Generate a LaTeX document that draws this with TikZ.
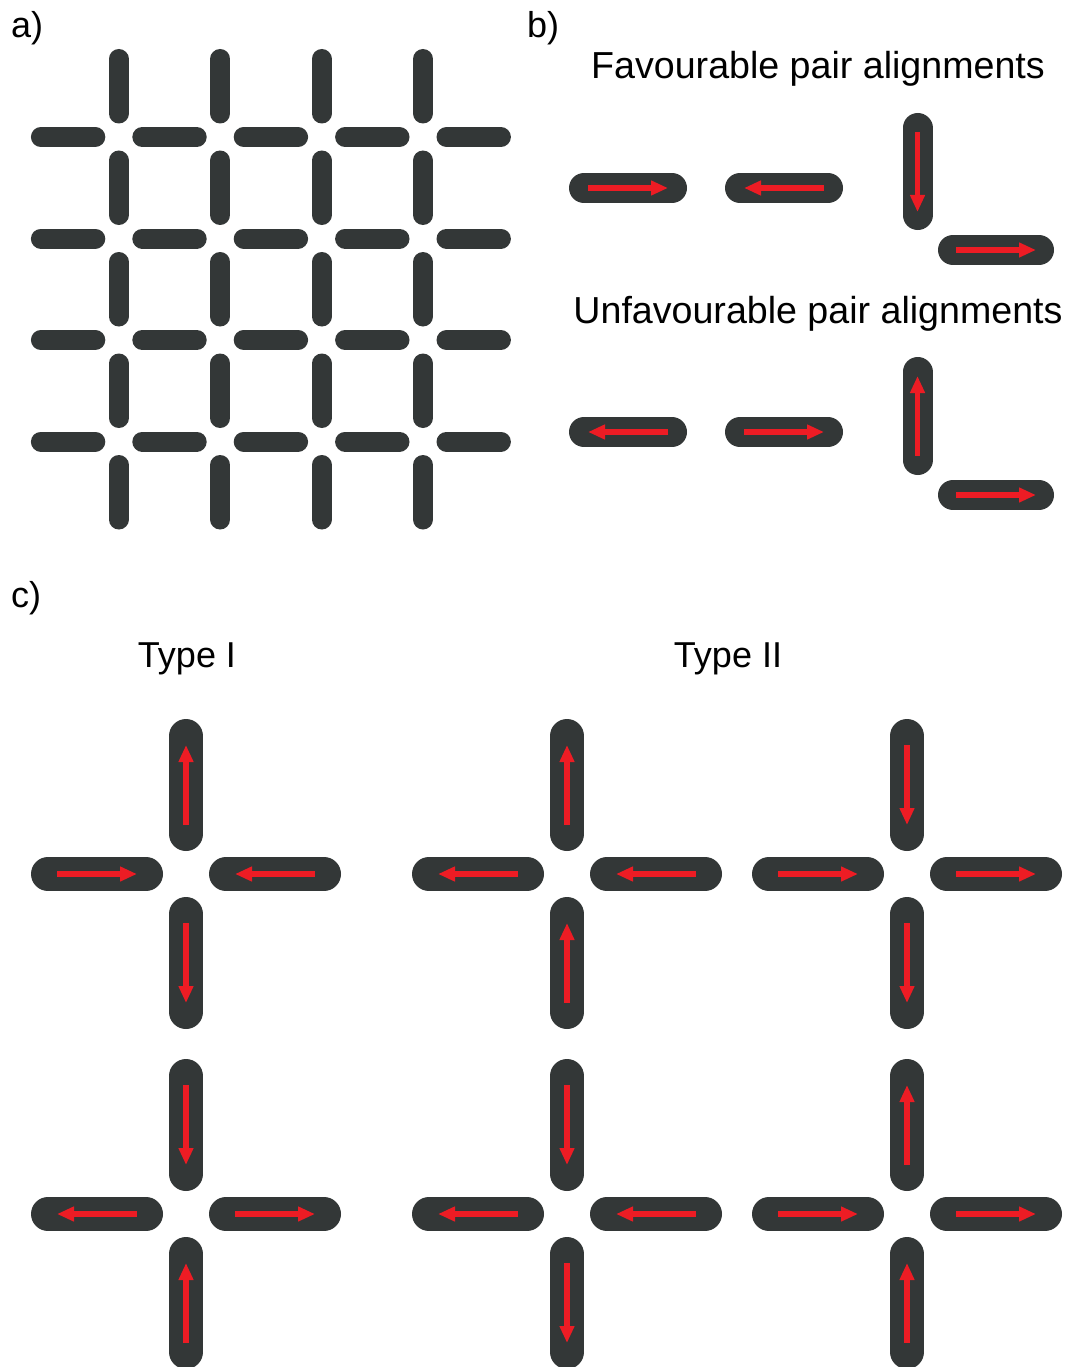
\documentclass[tikz,border=0pt]{standalone}
\usepackage{fontspec}
\setmainfont{Liberation Sans}
\usetikzlibrary{arrows.meta}

\definecolor{rodgray}{RGB}{51,55,55}
\definecolor{spinred}{RGB}{237,28,36}

% horizontal / vertical rod between two positions (cap to cap), given thickness
\newcommand\rodH[4]{% y, x-start, x-end, thickness
  \draw[rod, line width=#4pt] ({#2+#4/2},#1) -- ({#3-#4/2},#1);}
\newcommand\rodV[4]{% x, y-start, y-end, thickness
  \draw[rod, line width=#4pt] (#1,{#2+#4/2}) -- (#1,{#3-#4/2});}

% one arm of a cross: centre (#1,#2), direction (#3,#4), arrow outward (1) or inward (0)
\newcommand\crossarm[5]{%
  \draw[rod, line width=34pt] ({#1+40*(#3)},{#2+40*(#4)}) -- ({#1+138*(#3)},{#2+138*(#4)});
  \ifnum#5=1
    \draw[spin] ({#1+49*(#3)},{#2+49*(#4)}) -- ({#1+129*(#3)},{#2+129*(#4)});
  \else
    \draw[spin] ({#1+129*(#3)},{#2+129*(#4)}) -- ({#1+49*(#3)},{#2+49*(#4)});
  \fi}

% a full cross: centre, then up / left / right / down arrow senses
\newcommand\crossfour[6]{%
  \crossarm{#1}{#2}{0}{-1}{#3}%
  \crossarm{#1}{#2}{-1}{0}{#4}%
  \crossarm{#1}{#2}{1}{0}{#5}%
  \crossarm{#1}{#2}{0}{1}{#6}}

\begin{document}
\begin{tikzpicture}[x=1pt,y=-1pt,
  rod/.style={draw=rodgray, line cap=round},
  spin/.style={draw=spinred, line width=5.5pt,
    -{Triangle[length=17pt,width=14pt]}},
  lbl/.style={inner sep=0pt, font=\fontsize{36}{40}\selectfont},
  title/.style={inner sep=0pt, font=\fontsize{37.6}{42}\selectfont}]
\useasboundingbox[fill=white] (0,0) rectangle (1071,1367);

% panel labels
\node[lbl, anchor=base west] (la) at (11,38) {a)};
\node[lbl, anchor=base west] (lb) at (527,38) {b)};
\node[lbl, anchor=base west] (lc) at (11,607) {c)};

% ---- a) square lattice of rods ----
\foreach \j in {1,...,4}{
  \foreach \i in {0,...,4}{
    \pgfmathsetmacro\xa{17.4+101.4*\i+13.5}
    \pgfmathsetmacro\xb{17.4+101.4*(\i+1)-13.5}
    \pgfmathsetmacro\yy{35.5+101.5*\j}
    \rodH{\yy}{\xa}{\xb}{20}
  }}
\foreach \i in {1,...,4}{
  \foreach \j in {0,...,4}{
    \pgfmathsetmacro\ya{35.5+101.5*\j+13.5}
    \pgfmathsetmacro\yb{35.5+101.5*(\j+1)-13.5}
    \pgfmathsetmacro\xx{17.4+101.4*\i}
    \rodV{\xx}{\ya}{\yb}{20}
  }}

% ---- b) pair alignments ----
\node[title, anchor=base] (fav) at (818,79) {Favourable pair alignments};
\rodH{188}{569}{687}{30}
\draw[spin] (588,188) -- (668,188);
\rodH{188}{725}{843}{30}
\draw[spin] (824,188) -- (744,188);
\rodV{917.5}{113}{230}{30}
\draw[spin] (917.5,132) -- (917.5,212);
\rodH{250}{938}{1054}{30}
\draw[spin] (956,250) -- (1036,250);

\node[title, anchor=base] (unfav) at (818,323) {Unfavourable pair alignments};
\rodH{432}{569}{687}{30}
\draw[spin] (668,432) -- (588,432);
\rodH{432}{725}{843}{30}
\draw[spin] (744,432) -- (824,432);
\rodV{917.5}{357}{475}{30}
\draw[spin] (917.5,456) -- (917.5,376);
\rodH{495}{938}{1054}{30}
\draw[spin] (956,495) -- (1036,495);

% ---- c) vertex types ----
\node[lbl, anchor=base] (t1) at (187,667) {Type I};
\node[lbl, anchor=base] (t2) at (728,667) {Type II};

\crossfour{186}{874}{1}{0}{0}{1}
\crossfour{186}{1214}{0}{1}{1}{0}
\crossfour{567}{874}{1}{1}{0}{0}
\crossfour{907}{874}{0}{0}{1}{1}
\crossfour{567}{1214}{0}{1}{0}{1}
\crossfour{907}{1214}{1}{0}{1}{0}
\end{tikzpicture}
\end{document}
